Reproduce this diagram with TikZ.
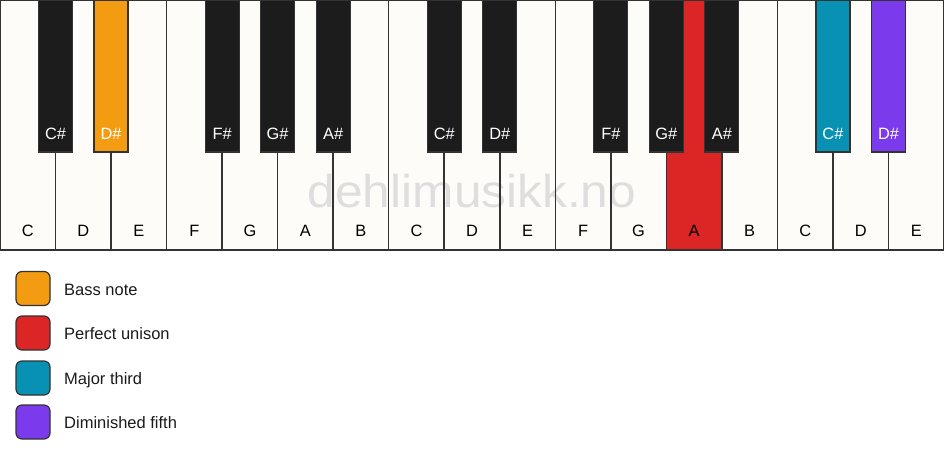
\documentclass[tikz,border=0pt]{standalone}
\usepackage{fontspec}
\setmainfont{Liberation Sans}
\definecolor{keywhite}{HTML}{FDFCF8}
\definecolor{keyblack}{HTML}{1C1C1C}
\definecolor{edge}{HTML}{333333}
\definecolor{bass}{HTML}{F39C12}
\definecolor{unison}{HTML}{DC2626}
\definecolor{third}{HTML}{0891B2}
\definecolor{fifth}{HTML}{7C3AED}
\definecolor{wmark}{HTML}{DEDEDE}
\definecolor{txt}{HTML}{1A1A1A}
\begin{document}
\begin{tikzpicture}[x=1pt,y=-1pt,
  whitekey/.style={draw=none, minimum width=55.53pt, minimum height=250pt, anchor=north west, inner sep=0pt, outer sep=0pt},
  blackkey/.style={draw=edge, line width=1.2pt, minimum width=34pt, minimum height=152pt, anchor=north, inner sep=0pt, outer sep=0pt},
  keylabel/.style={font=\fontsize{16.4}{19}\selectfont, anchor=base, inner sep=0pt},
  legbox/.style={draw=edge, line width=1.2pt, rounded corners=6pt, minimum width=34pt, minimum height=34pt, inner sep=0pt},
  legtext/.style={font=\fontsize{16.5}{19}\selectfont, text=txt, anchor=base west, inner sep=0pt},
  wmstyle/.style={font=\fontsize{46}{50}\selectfont, text=wmark, anchor=base, inner sep=0pt, xscale=1.08}]
\useasboundingbox (0,0) rectangle (944,461);
\def\w{55.5294}
% white keys
\foreach \i/\n/\c in {0/C/keywhite,1/D/keywhite,2/E/keywhite,3/F/keywhite,4/G/keywhite,5/A/keywhite,6/B/keywhite,7/C/keywhite,8/D/keywhite,9/E/keywhite,10/F/keywhite,11/G/keywhite,12/A/unison,13/B/keywhite,14/C/keywhite,15/D/keywhite,16/E/keywhite}{
  \node[whitekey, fill=\c] (w\i) at ({\i*\w},0) {};
}
% watermark
\node[wmstyle] (wm) at (472,207) {dehlimusikk.no};
% white key outlines and labels
\foreach \i/\n in {0/C,1/D,2/E,3/F,4/G,5/A,6/B,7/C,8/D,9/E,10/F,11/G,12/A,13/B,14/C,15/D,16/E}{
  \draw[edge, line width=1.5pt] (w\i.north west) rectangle (w\i.south east);
  \node[keylabel, text=black] (lw\i) at ({(\i+0.5)*\w},236) {\n};
}
% black keys
\foreach \b/\n/\c in {1/C/keyblack,2/D/bass,4/F/keyblack,5/G/keyblack,6/A/keyblack,8/C/keyblack,9/D/keyblack,11/F/keyblack,12/G/keyblack,13/A/keyblack,15/C/third,16/D/fifth}{
  \node[blackkey, fill=\c] (b\b) at ({\b*\w},0) {};
  \node[keylabel, text=white] (lb\b) at ({\b*\w},139) {\n\#};
}
% legend
\node[legbox, fill=bass] (l1) at (33,288.5) {};
\node[legtext] (t1) at (64,295.3) {Bass note};
\node[legbox, fill=unison] (l2) at (33,333) {};
\node[legtext] (t2) at (64,339.8) {Perfect unison};
\node[legbox, fill=third] (l3) at (33,378) {};
\node[legtext] (t3) at (64,384.8) {Major third};
\node[legbox, fill=fifth] (l4) at (33,422) {};
\node[legtext] (t4) at (64,428.8) {Diminished fifth};
\end{tikzpicture}
\end{document}
